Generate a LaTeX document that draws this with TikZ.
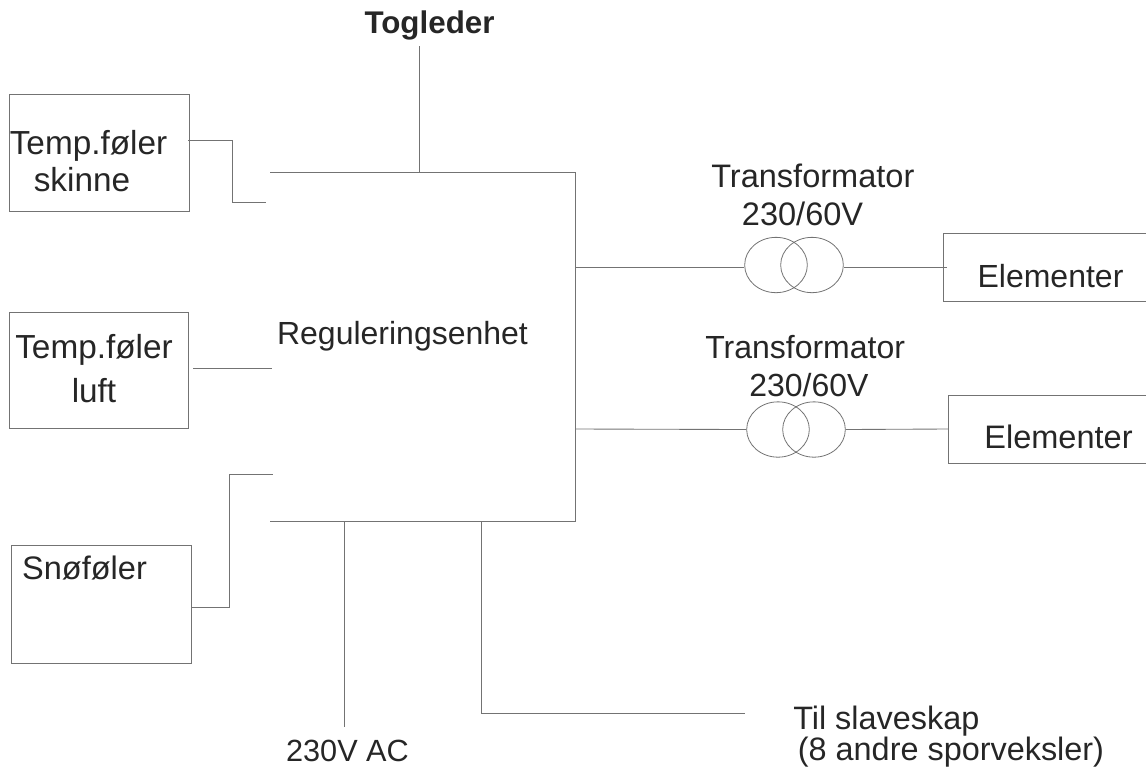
\documentclass[tikz,border=0pt]{standalone}
\usepackage{fontspec}
\usetikzlibrary{shapes.geometric}
\setmainfont{Liberation Sans}
\begin{document}
\begin{tikzpicture}[x=0.75pt,y=-0.75pt,
  ln/.style={draw=black!55,line width=0.65pt},
  boxx/.style={draw=black!55,line width=0.65pt,fill=none},
  coil/.style={draw=black!55,line width=0.6pt,ellipse,minimum width=47pt,minimum height=41.5pt,inner sep=0pt},
  lbl/.style={font=\fontsize{24}{28}\selectfont,text=black!85,align=center,inner sep=0pt},
  lblw/.style={lbl,align=left,anchor=west}]
\useasboundingbox (0,0) rectangle (1146,769);
% boxes
\coordinate (b1a) at (9,94); \coordinate (b1b) at (189,211);
\coordinate (b2a) at (9,312); \coordinate (b2b) at (188.5,428.5);
\coordinate (b3a) at (11,545.5); \coordinate (b3b) at (191,663);
\coordinate (e1a) at (943,233); \coordinate (e1b) at (1146,301);
\coordinate (e2a) at (948,395); \coordinate (e2b) at (1146,463);
\draw[boxx] (b1a) rectangle (b1b);
\draw[boxx] (b2a) rectangle (b2b);
\draw[boxx] (b3a) rectangle (b3b);
\draw[boxx] (e1a) rectangle (e1b);
\draw[boxx] (e2a) rectangle (e2b);
% control unit (open on the left)
\coordinate (rtl) at (270,172); \coordinate (rtr) at (575,172);
\coordinate (rbr) at (575,521); \coordinate (rbl) at (270,521);
\draw[ln] (rtl) -- (rtr) -- (rbr) -- (rbl);
% labels
\node[lbl,font=\fontsize{23.5}{28}\selectfont\bfseries] (tog) at (429.5,25) {Togleder};
\node[lblw,font=\fontsize{25}{28}\selectfont] (t1) at (9.5,161) {Temp.føler\\\hspace*{18pt}skinne};
\node[lbl,font=\fontsize{25}{28}\selectfont] (t2) at (94,369) {Temp.føler\\[5pt]luft};
\node[lbl,font=\fontsize{24.4}{28}\selectfont] (t3) at (84.5,568) {Snøføler};
\node[lbl] (reg) at (402.5,336) {Reguleringsenhet};
\node[lblw,font=\fontsize{24.4}{28}\selectfont] (tr1) at (711,195) {Transformator\\\hspace*{23pt}230/60V};
\node[lblw] (tr2) at (705,366) {Transformator\\\hspace*{33pt}230/60V};
\node[lbl] (el1) at (1050.5,276) {Elementer};
\node[lbl,font=\fontsize{24.4}{28}\selectfont] (el2) at (1058.5,436.5) {Elementer};
\node[lbl,font=\fontsize{23}{28}\selectfont] (ac) at (347.5,751) {230V AC};
\node[lblw,font=\fontsize{24.3}{23.25}\selectfont] (sl) at (793,737) {Til slaveskap\\\hspace*{3.5pt}(8 andre sporveksler)};
% transformers
\node[coil] (c1a) at (776,265) {};
\node[coil] (c1b) at (812,265) {};
\node[coil] (c2a) at (778,429.5) {};
\node[coil] (c2b) at (814,429.5) {};
% connectors
\coordinate (k1) at (188,140); \coordinate (k2) at (232,140); \coordinate (k3) at (232,202); \coordinate (k4) at (266,202);
\draw[ln] (k1) -- (k2) -- (k3) -- (k4);
\coordinate (l1) at (193,368); \coordinate (l2) at (272,368);
\draw[ln] (l1) -- (l2);
\coordinate (s1) at (191,607); \coordinate (s2) at (229,607); \coordinate (s3) at (229,474.5); \coordinate (s4) at (273,474.5);
\draw[ln] (s1) -- (s2) -- (s3) -- (s4);
\coordinate (tg1) at (419,46); \coordinate (tg2) at (419,172);
\draw[ln] (tg1) -- (tg2);
\coordinate (r1) at (575,267.5); \coordinate (r2) at (575,429);
\coordinate (ei1) at (947,267); \coordinate (ei2) at (948,429);
\coordinate (t1l) at (744,267.5); \coordinate (t1r) at (844,267);
\draw[ln] (r1) -- (t1l);
\draw[ln] (t1r) -- (ei1);
\draw[ln] (r2) -- (c2a.west);
\draw[ln] (c2b.east) -- (ei2);
\coordinate (ac1) at (344,521); \coordinate (ac2) at (344,727);
\draw[ln] (ac1) -- (ac2);
\coordinate (sa) at (481,521); \coordinate (sb) at (481,713); \coordinate (sc) at (745,713);
\draw[ln] (sa) -- (sb) -- (sc);
\end{tikzpicture}
\end{document}
